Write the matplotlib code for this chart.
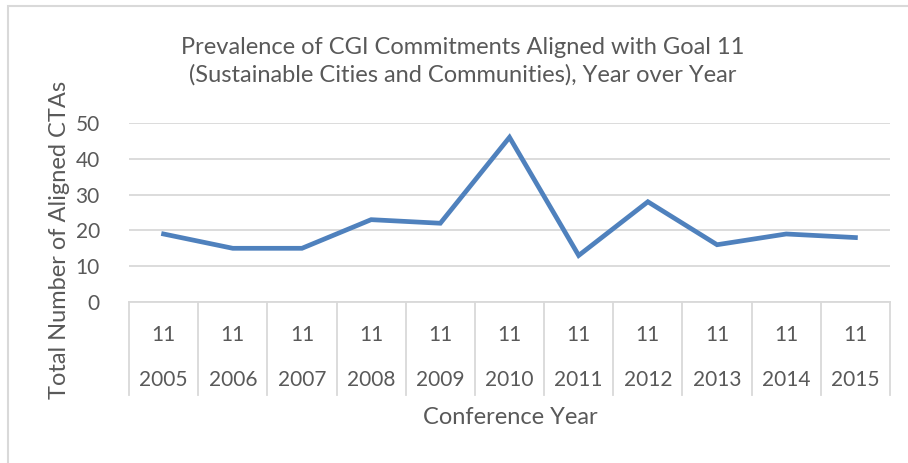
import matplotlib
matplotlib.use("Agg")
import matplotlib.pyplot as plt
import matplotlib.transforms as mtransforms
from matplotlib.patches import Rectangle

years = ["2005", "2006", "2007", "2008", "2009", "2010",
         "2011", "2012", "2013", "2014", "2015"]
goal = ["11"] * len(years)
counts = [19, 15, 15, 23, 22, 46, 13, 28, 16, 19, 18]
yticks = [0, 10, 20, 30, 40, 50]

TXT = "#595959"
GRID = "#D9D9D9"
LINE = "#4F81BD"
plt.rcParams["font.family"] = ["Lato", "DejaVu Sans"]

W, H = 908, 463
fig = plt.figure(figsize=(W / 100, H / 100), dpi=100)
# chart border (runs off the right and bottom edges)
fig.patches.append(Rectangle((8 / W, -0.05), 1.0, 1 - 6 / H + 0.05, transform=fig.transFigure,
                             fill=False, edgecolor=GRID, lw=1.5))

# plot area in pixels: x 129..890, y 123..302 (from top)
ax = fig.add_axes([129 / W, (H - 302) / H, 761 / W, 179 / H])
xs = list(range(len(years)))
ax.plot(xs, counts, color=LINE, lw=3.4, solid_joinstyle="miter", zorder=3)
ax.set_xlim(-0.5, len(years) - 0.5)
ax.set_ylim(0, 50)
ax.set_yticks(yticks)
ax.yaxis.grid(True, color=GRID, lw=1.3)
ax.set_axisbelow(True)
ax.set_xticks([])
for s in ["top", "right", "left"]:
    ax.spines[s].set_visible(False)
ax.spines["bottom"].set_color(GRID)
ax.spines["bottom"].set_linewidth(1.3)
ax.tick_params(axis="y", length=0, pad=21, labelsize=15, labelcolor=TXT)

# two-level category axis
tr = mtransforms.blended_transform_factory(ax.transData, ax.transAxes)
for i in range(len(years) + 1):
    ax.plot([i - 0.5, i - 0.5], [0, -0.52], transform=tr, color=GRID, lw=1.3, clip_on=False)
for i, (g, yr) in enumerate(zip(goal, years)):
    ax.text(i, -0.185, g, transform=tr, ha="center", va="center", fontsize=15, color=TXT)
    ax.text(i, -0.435, yr, transform=tr, ha="center", va="center", fontsize=15, color=TXT)

fig.text(510 / W, 1 - 418 / H, "Conference Year", ha="center", va="center",
         fontsize=17, color=TXT)
fig.text(59 / W, 1 - 240 / H, "Total Number of Aligned CTAs", ha="center", va="center",
         rotation=90, fontsize=17, color=TXT)
fig.text(463 / W, 1 - 61 / H,
         "Prevalence of CGI Commitments Aligned with Goal 11\n"
         "(Sustainable Cities and Communities), Year over Year",
         ha="center", va="center", fontsize=17, color=TXT, linespacing=1.35)

fig.savefig("out.png", dpi=100)
